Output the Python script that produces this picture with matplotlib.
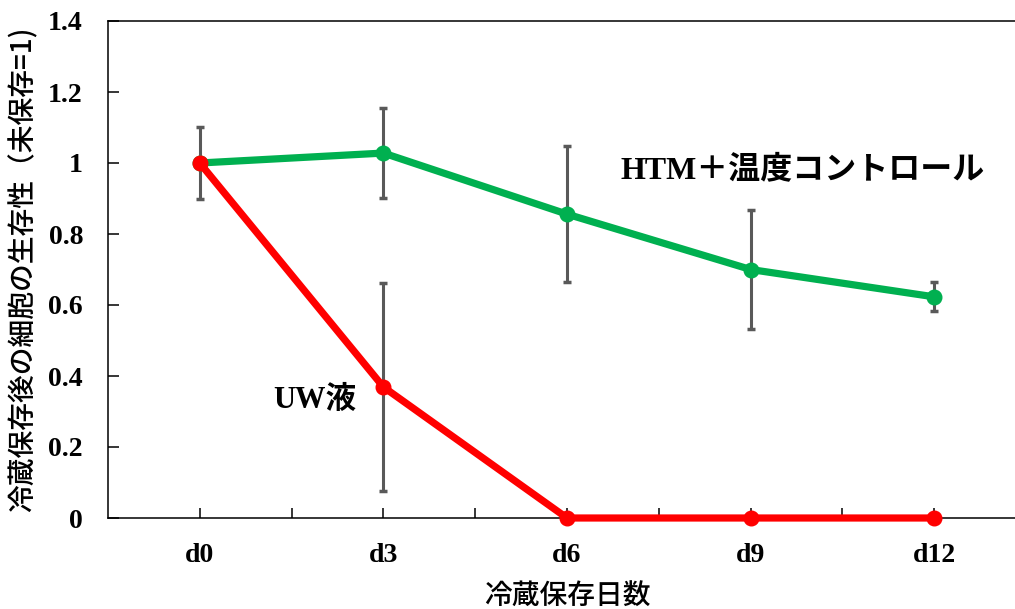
import numpy as np
import matplotlib
matplotlib.use('Agg')
import matplotlib.pyplot as plt
from matplotlib.ticker import FixedLocator

# data
days = ['d0', 'd3', 'd6', 'd9', 'd12']
htm = [1.0, 1.028, 0.856, 0.70, 0.623]
htm_err = [0.10, 0.126, 0.192, 0.168, 0.041]
uw = [1.0, 0.369, 0.0, 0.0, 0.0]
uw_err = [0.0, 0.292, 0.0, 0.0, 0.0]
yticks = [0, 0.2, 0.4, 0.6, 0.8, 1.0, 1.2, 1.4]
ytick_labels = ['0', '0.2', '0.4', '0.6', '0.8', '1', '1.2', '1.4']

serif = ['Liberation Serif', 'Noto Sans CJK JP']
cjk = ['Noto Sans CJK JP', 'DejaVu Sans']

fig = plt.figure(figsize=(10.15, 6.09), dpi=100)
ax = fig.add_axes([108 / 1015, 91 / 609, 918 / 1015, 497 / 609])

x = np.arange(len(days))
green = '#00B050'
red = '#FF0000'
grey = '#595959'

# error bars (only where there is spread)
ax.errorbar(x, htm, yerr=htm_err, fmt='none', ecolor=grey, elinewidth=2.2,
            capsize=3.2, capthick=2.5, zorder=2)
mask = np.array(uw_err) > 0
ax.errorbar(x[mask], np.array(uw)[mask], yerr=np.array(uw_err)[mask], fmt='none',
            ecolor=grey, elinewidth=2.2, capsize=3.2, capthick=2.5, zorder=2)

ax.plot(x, htm, color=green, lw=5.2, marker='o', ms=10.5, zorder=3, clip_on=False)
ax.plot(x, uw, color=red, lw=5.2, marker='o', ms=10.5, zorder=4, clip_on=False)

ax.set_xlim(-0.5, 4.5)
ax.set_ylim(0, 1.4)

ax.set_xticks(x)
ax.set_xticklabels(days)
ax.xaxis.set_minor_locator(FixedLocator(x[:-1] + 0.5))
ax.set_yticks(yticks)
ax.set_yticklabels(ytick_labels)

ax.tick_params(axis='both', which='both', direction='in', width=1.1,
               colors='black')
ax.tick_params(axis='x', which='both', length=7, pad=18, top=False)
ax.tick_params(axis='y', length=8, pad=18, right=False)
for lab in ax.get_xticklabels() + ax.get_yticklabels():
    lab.set_family(serif)
    lab.set_fontweight('bold')
    lab.set_fontsize(20)

for s in ax.spines.values():
    s.set_linewidth(1.1)
ax.spines['right'].set_visible(False)

ax.set_xlabel('冷蔵保存日数', family=cjk, fontsize=20, fontweight='medium',
              labelpad=10)
ax.set_ylabel('冷蔵保存後の細胞の生存性（未保存=1)', family=cjk, fontsize=20,
              fontweight='medium', labelpad=8)

ax.text(2.29, 0.98, 'HTM＋温度コントロール', family=serif, fontweight='bold',
        fontsize=23, va='center', ha='left')
ax.text(0.4, 0.33, 'UW液', family=serif, fontweight='bold',
        fontsize=22, va='center', ha='left')

fig.savefig('out.png', dpi=100)
